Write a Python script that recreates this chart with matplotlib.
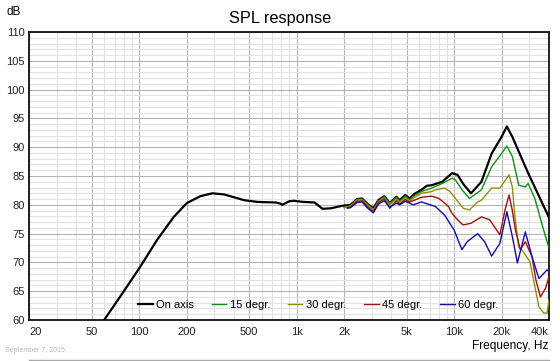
import numpy as np
import matplotlib
matplotlib.use('Agg')
import matplotlib.pyplot as plt
from matplotlib.lines import Line2D
from matplotlib.ticker import FixedLocator, NullFormatter

plt.rcParams['font.family'] = ['Liberation Sans', 'DejaVu Sans']

# [데이터] 주파수(Hz) / 음압(dB)
freq_on = [60, 80, 102, 130, 166, 201, 245, 292, 346, 465, 566, 738, 790, 811, 895,
           960, 1100, 1300, 1460, 1660, 1920, 2200, 2420, 2600, 2830, 3070, 3300,
           3600, 3900, 4300, 4500, 4900, 5200, 5600, 6200, 6700, 7200, 8400, 9700,
           10500, 11500, 12800, 14900, 17300, 20000, 21600, 23400, 29500, 40000]
spl_on = [60.0, 65.0, 69.3, 73.9, 77.9, 80.3, 81.5, 82.0, 81.8, 80.8, 80.5, 80.4, 80.2,
          80.0, 80.6, 80.7, 80.5, 80.4, 79.3, 79.4, 79.8, 80.0, 81.0, 81.1, 80.1, 79.4,
          80.8, 81.5, 80.3, 81.4, 80.8, 81.7, 81.1, 81.9, 82.6, 83.3, 83.4, 84.0, 85.5,
          85.2, 83.5, 82.0, 84.0, 88.9, 91.8, 93.6, 91.8, 85.5, 77.8]

freq_15 = [2000, 2200, 2420, 2600, 2830, 3070, 3300, 3600, 3900, 4300, 4500, 4900,
           5200, 5600, 6200, 7200, 8400, 9700, 10200, 11300, 12500, 14900, 17300,
           20000, 21600, 23400, 25700, 28300, 29500, 32500, 37000, 40000]
spl_15 = [79.6, 79.8, 80.9, 81.0, 80.0, 79.2, 80.6, 81.4, 80.2, 81.3, 80.6, 81.5,
          80.9, 81.6, 82.3, 82.9, 83.7, 84.6, 84.3, 82.5, 81.1, 82.6, 86.6,
          88.9, 90.2, 88.4, 83.4, 83.1, 83.7, 81.1, 75.6, 72.5]

freq_30 = [2000, 2200, 2420, 2600, 2830, 3070, 3300, 3600, 3900, 4300, 4500, 4900,
           5200, 5600, 6200, 7200, 7600, 8700, 9400, 10000, 11400, 12500, 14100,
           14900, 17300, 19500, 22300, 23400, 24300, 25700, 27400, 30300, 34500,
           37000, 38900, 40000]
spl_30 = [79.5, 79.8, 80.8, 80.9, 79.9, 79.1, 80.5, 81.2, 80.0, 81.0, 80.4, 81.2,
          80.6, 81.3, 82.0, 82.3, 82.6, 82.9, 82.3, 81.4, 79.4, 79.1, 80.5,
          80.8, 82.9, 82.9, 85.2, 83.1, 78.0, 72.7, 71.9, 70.1, 62.3,
          61.2, 61.2, 63.5]

freq_45 = [2100, 2200, 2420, 2600, 2830, 3070, 3300, 3600, 3900, 4300, 4500, 4900,
           5200, 5600, 6200, 7200, 8000, 8700, 9200, 9700, 10500, 11400, 12800,
           14900, 16800, 19500, 21000, 22300, 23400, 24500, 26300, 28300, 31200,
           33000, 35300, 38000, 40000]
spl_45 = [79.5, 79.6, 80.6, 80.7, 79.6, 78.8, 80.3, 81.0, 79.4, 80.7, 80.1, 80.9,
          80.5, 80.8, 81.3, 81.5, 81.1, 80.3, 79.7, 78.5, 77.4, 76.5, 76.8,
          77.9, 77.4, 74.8, 79.0, 81.7, 79.0, 75.6, 72.2, 73.6, 71.0,
          67.0, 64.0, 65.5, 67.5]

freq_60 = [2100, 2200, 2420, 2600, 2830, 3070, 3300, 3600, 3900, 4300, 4500, 4900,
           5200, 5500, 6200, 7600, 8700, 10000, 11200, 12100, 14100, 15600, 17300,
           19500, 21600, 23400, 25200, 28300, 31200, 34500, 38900, 40000]
spl_60 = [79.4, 79.5, 80.4, 80.5, 79.4, 78.6, 80.1, 80.7, 79.6, 80.3, 80.0, 80.6,
          80.3, 80.0, 80.5, 79.7, 78.2, 75.6, 72.2, 73.6, 75.0, 73.6, 71.1,
          73.3, 78.8, 74.5, 69.9, 75.3, 71.0, 67.2, 68.7, 68.4]

series = [
    ('On axis', freq_on, spl_on, '#000000', 1.6),
    ('15 degr.', freq_15, spl_15, '#109010', 1.0),
    ('30 degr.', freq_30, spl_30, '#8f8f10', 1.0),
    ('45 degr.', freq_45, spl_45, '#a01010', 1.0),
    ('60 degr.', freq_60, spl_60, '#1010a0', 1.0),
]

x_ticks = [20, 50, 100, 200, 500, 1000, 2000, 5000, 10000, 20000, 40000]
x_labels = ['20', '50', '100', '200', '500', '1k', '2k', '5k', '10k', '20k', '40k']

fig = plt.figure(figsize=(5.6, 3.61), dpi=100)
ax = fig.add_axes([29 / 560, 41 / 361, 520 / 560, 288 / 361])

for name, f, s, c, lw in series:
    ax.plot(f, s, color=c, lw=lw, label=name, zorder=3)

ax.set_xscale('log')
ax.set_xlim(20, 40000)
ax.set_ylim(60, 110)

# 격자
minor_x = [m * 10 ** e for e in range(1, 5) for m in range(1, 10)]
minor_x = [v for v in minor_x if 20 <= v <= 40000 and v not in x_ticks]
ax.xaxis.set_major_locator(FixedLocator(x_ticks))
ax.xaxis.set_minor_locator(FixedLocator(minor_x))
ax.xaxis.set_minor_formatter(NullFormatter())
ax.set_xticklabels(x_labels)
ax.set_yticks(np.arange(60, 111, 5))
ax.set_yticks(np.arange(60, 111, 1), minor=True)

ax.grid(which='major', color='#b4b4b4', lw=0.8, zorder=0)
ax.grid(which='minor', color='#e2e2e2', lw=0.8, zorder=0)
ax.tick_params(which='both', length=0, labelsize=8, colors='#222222')
ax.tick_params(axis='x', pad=5)
ax.tick_params(axis='y', pad=3)

xl = ax.get_xticklabels()
xl[0].set_ha('left')
xl[-1].set_ha('right')

for sp in ax.spines.values():
    sp.set_color('#111111')
    sp.set_linewidth(1.3)

leg = ax.legend(loc='center left', bbox_to_anchor=(0.21, 0.052), ncol=5,
                frameon=False, fontsize=8, handlelength=1.3, handletextpad=0.3,
                columnspacing=1.62, borderpad=0, borderaxespad=0)

fig.text(280 / 560, 1 - 18 / 361, 'SPL response', ha='center', va='center', fontsize=11.8)
fig.text(14 / 560, 1 - 12 / 361, 'dB', ha='center', va='center', fontsize=8.5)
fig.text(548 / 560, 1 - 346 / 361, 'Frequency, Hz', ha='right', va='center', fontsize=8.6)
fig.text(5 / 560, 1 - 350 / 361, 'September 7, 2015', ha='left', va='center',
         fontsize=5, color='#b8b8b8')
fig.add_artist(Line2D([29 / 560, 549 / 560], [1 - 359.5 / 361] * 2,
                      color='#a8a8a8', lw=1.0, transform=fig.transFigure))

plt.savefig('out.png', dpi=100)
plt.close()
